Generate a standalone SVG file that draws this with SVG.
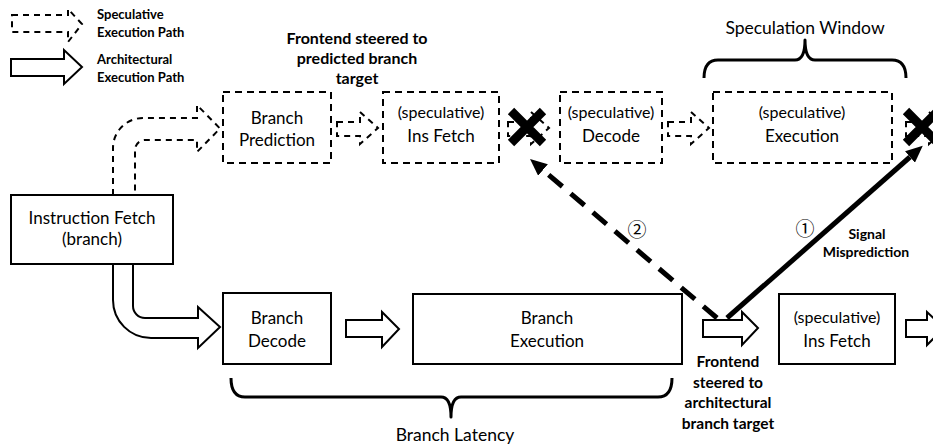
<svg xmlns="http://www.w3.org/2000/svg" width="933" height="447" viewBox="0 0 933 447">
<defs>
<style>
.box{fill:#fff;stroke:#000;stroke-width:2}
.dbox{fill:#fff;stroke:#000;stroke-width:2;stroke-dasharray:7 5}
.arr{fill:#fff;stroke:#000;stroke-width:2;stroke-linejoin:miter}
.darr{fill:#fff;stroke:#000;stroke-width:2;stroke-dasharray:6 5}
.dline{fill:none;stroke:#000;stroke-width:2;stroke-dasharray:6 5}
.t{font-family:Lato,"Liberation Sans",sans-serif;font-size:17px;text-anchor:middle;fill:#000}
.s{font-size:16px}
.b{font-family:Lato,"Liberation Sans",sans-serif;font-weight:bold;font-size:15.5px;text-anchor:middle;fill:#000}
.lg{font-family:Lato,"Liberation Sans",sans-serif;font-weight:bold;font-size:13px;fill:#000}
.num{font-family:"Noto Sans CJK JP","DejaVu Sans",sans-serif;font-size:19px;text-anchor:middle;fill:#000}
.brace{fill:none;stroke:#000;stroke-width:3;stroke-linejoin:round}
.x{stroke:#000;stroke-width:9;fill:none}
.thick{fill:none;stroke:#000;stroke-width:5}
</style>
<marker id="ah" markerUnits="userSpaceOnUse" markerWidth="17" markerHeight="15" refX="0" refY="7.5" orient="auto">
<path d="M0,0 L17,7.5 L0,15 z" fill="#000"/>
</marker>
</defs>

<g id="legend">
<polygon class="darr" points="12,15 68,15 68,9 82,24 68,42 68,32 12,32"/>
<text class="lg" x="97" y="19">Speculative</text>
<text class="lg" x="97" y="37">Execution Path</text>
<polygon class="arr" points="11,59 64,59 64,50 82,67 64,84 64,76 11,76"/>
<text class="lg" x="97" y="64">Architectural</text>
<text class="lg" x="97" y="82">Execution Path</text>
</g>

<g id="label-predicted">
<text class="b" x="357" y="44" style="font-size:16px">Frontend steered to</text>
<text class="b" x="357" y="64" style="font-size:16px">predicted branch</text>
<text class="b" x="357" y="84" style="font-size:16px">target</text>
</g>

<g id="speculation-window">
<path class="brace" d="M704,78 Q704,60 718,60 L795,60 Q805,60 805,40 Q805,60 815,60 L892,60 Q906,60 906,78"/>
<text class="t" x="805" y="34" style="font-size:17.5px">Speculation Window</text>
</g>

<g id="connectors">
<path class="dline" d="M113,195 L113,148 A30,30 0 0 1 143,118 L197,118 L197,105 L220,128.5 L197,152 L197,140 L145,140 A10,10 0 0 0 135,150 L135,195" fill="#fff"/>
<path class="arr" d="M113,264 L113,300 A38,38 0 0 0 151,338 L198,338 L198,348 L220,327 L198,307 L198,318 L145,318 A12,12 0 0 1 133,306 L133,264"/>
<polygon class="darr" points="337,122 360,122 360,112 378,128 360,144 360,136 337,136"/>
<polygon class="darr" points="508,122 531,122 531,112 549,128 531,144 531,136 508,136"/>
<polygon class="darr" points="668,122 691,122 691,112 709,128 691,144 691,136 668,136"/>
<polygon class="darr" points="906,122 929,122 929,112 947,128 929,144 929,136 906,136"/>
<polygon class="arr" points="346,320 382,320 382,312 399,329 382,347 382,337 346,337"/>
<polygon class="arr" points="703,320 742,320 742,312 758,328 742,345 742,337 703,337"/>
<polygon class="arr" points="906,320 927,320 927,312 944,328 927,345 927,337 906,337"/>
<line class="thick" x1="717" y1="318" x2="543" y2="170" stroke-dasharray="18 11" marker-end="url(#ah)"/>
<line class="thick" x1="727" y1="318" x2="910" y2="157" marker-end="url(#ah)"/>
<text class="num" x="637" y="237">②</text>
<text class="num" x="805" y="236">①</text>
<text class="b" x="867" y="239" style="font-size:14px">Signal</text>
<text class="b" x="866" y="257" style="font-size:14px">Misprediction</text>
</g>

<g id="x-marks">
<path class="x" d="M511,111 L543,143 M543,111 L511,143"/>
<path class="x" d="M906,111 L938,143 M938,111 L906,143"/>
</g>

<g id="instruction-fetch">
<rect class="box" x="11" y="195" width="162" height="69"/>
<text class="t" x="92" y="224">Instruction Fetch</text>
<text class="t" x="92" y="245">(branch)</text>
</g>

<g id="branch-prediction">
<rect class="dbox" x="223" y="92" width="108" height="71"/>
<text class="t" x="277" y="124">Branch</text>
<text class="t" x="277" y="146">Prediction</text>
</g>

<g id="spec-ins-fetch">
<rect class="dbox" x="383" y="92" width="116" height="71"/>
<text class="t s" x="441" y="118">(speculative)</text>
<text class="t" x="441" y="142">Ins Fetch</text>
</g>

<g id="spec-decode">
<rect class="dbox" x="560" y="92" width="102" height="71"/>
<text class="t s" x="611" y="118">(speculative)</text>
<text class="t" x="611" y="142">Decode</text>
</g>

<g id="spec-execution">
<rect class="dbox" x="713" y="92" width="179" height="71"/>
<text class="t s" x="802" y="118">(speculative)</text>
<text class="t" x="802" y="142">Execution</text>
</g>

<g id="branch-decode">
<rect class="box" x="223" y="293" width="108" height="71"/>
<text class="t" x="277" y="324">Branch</text>
<text class="t" x="277" y="347">Decode</text>
</g>

<g id="branch-execution">
<rect class="box" x="413" y="294" width="269" height="70"/>
<text class="t" x="547" y="324">Branch</text>
<text class="t" x="547" y="347">Execution</text>
</g>

<g id="spec-ins-fetch-2">
<rect class="box" x="779" y="294" width="116" height="70"/>
<text class="t s" x="837" y="323">(speculative)</text>
<text class="t" x="837" y="347">Ins Fetch</text>
</g>

<g id="frontend-arch-label">
<text class="b" x="728" y="367">Frontend</text>
<text class="b" x="728" y="388">steered to</text>
<text class="b" x="728" y="408">architectural</text>
<text class="b" x="728" y="429">branch target</text>
</g>

<g id="branch-latency">
<path class="brace" d="M231,378 Q231,397 245,397 L441,397 Q451,397 451,417 Q451,397 461,397 L658,397 Q672,397 672,378"/>
<text class="t" x="455" y="441" style="font-size:17.5px">Branch Latency</text>
</g>
</svg>
